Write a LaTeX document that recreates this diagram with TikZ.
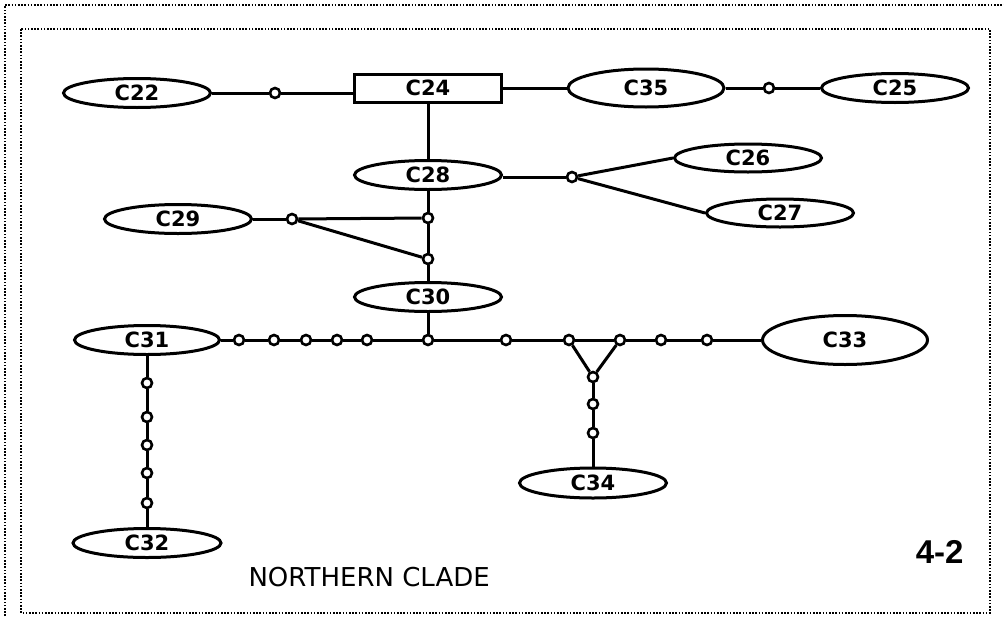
\documentclass[tikz,border=0pt]{standalone}
\usepackage{fontspec}
\setmainfont{DejaVu Sans}
\newfontfamily\arialfont{Liberation Sans}
\usepackage{tikz}
\usetikzlibrary{shapes, positioning}

\tikzset{
    hap/.style={ellipse, draw, line width=3pt, minimum width=147pt, minimum height=29pt,
        inner sep=0pt, font=\fontsize{21}{24}\selectfont\bfseries},
    hapbox/.style={rectangle, draw, line width=3pt, minimum width=147pt, minimum height=28pt,
        inner sep=0pt, font=\fontsize{21}{24}\selectfont\bfseries},
    mv/.style={circle, draw, fill=white, line width=2.6pt, minimum size=10pt, inner sep=0pt},
    link/.style={line width=3pt},
    frame/.style={line width=1.6pt, dash pattern=on 1.6pt off 1.6pt}
}

\begin{document}
\begin{tikzpicture}[x=1pt, y=-1pt]
        \useasboundingbox (0, 0) rectangle (1004, 616);
        \draw[frame] (5, 616) |- (1004, 5);
        \draw[frame] (21, 29) rectangle (990, 613);

        % top row
        \node[hap] (c22) at (137, 93) {C22};
        \node[mv] (m1) at (275, 93) {};
        \node[hapbox] (c24) at (428, 88) {C24};
        \node[hap, minimum width=156pt, minimum height=38pt] (c35) at (646, 88) {C35};
        \node[mv] (m2) at (769, 88) {};
        \node[hap] (c25) at (895, 88) {C25};

        % middle part
        \node[hap] (c28) at (428, 175) {C28};
        \node[mv] (m3) at (572, 177) {};
        \node[hap, minimum height=28pt] (c26) at (748, 158) {C26};
        \node[hap, minimum height=28pt] (c27) at (780, 213) {C27};
        \node[mv] (m4) at (428, 218) {};
        \node[mv] (m5) at (292, 219) {};
        \node[hap] (c29) at (178, 219) {C29};
        \node[mv] (m6) at (428, 259) {};
        \node[hap] (c30) at (428, 297) {C30};

        % long branch
        \node[hap, minimum width=145pt] (c31) at (147, 340) {C31};
        \node[mv] (a1) at (239, 340) {};
        \node[mv] (a2) at (274, 340) {};
        \node[mv] (a3) at (306, 340) {};
        \node[mv] (a4) at (337, 340) {};
        \node[mv] (a5) at (367, 340) {};
        \node[mv] (a6) at (428, 340) {};
        \node[mv] (a7) at (506, 340) {};
        \node[mv] (a8) at (569, 340) {};
        \node[mv] (a9) at (620, 340) {};
        \node[mv] (a10) at (661, 340) {};
        \node[mv] (a11) at (707, 340) {};
        \node[hap, minimum width=165pt, minimum height=49pt] (c33) at (845, 340) {C33};

        % down to C34
        \node[mv] (b1) at (593, 377) {};
        \node[mv] (b2) at (593, 404) {};
        \node[mv] (b3) at (593, 433) {};
        \node[hap, minimum height=30pt] (c34) at (593, 483) {C34};

        % down to C32
        \node[mv] (d1) at (147, 383) {};
        \node[mv] (d2) at (147, 417) {};
        \node[mv] (d3) at (147, 445) {};
        \node[mv] (d4) at (147, 473) {};
        \node[mv] (d5) at (147, 503) {};
        \node[hap, minimum width=148pt] (c32) at (147, 543) {C32};

        \node[anchor=base west, font=\fontsize{26}{30}\selectfont] (clade) at (245, 586) {NORTHERN CLADE};
        \node[anchor=base east, font=\arialfont\fontsize{33}{36}\selectfont\bfseries] (fig) at (967, 563) {4-2};

        \draw[link] (c22) -- (m1);
        \draw[link] (m1) -- (m1 -| c24.west);
        \draw[link] (c24) -- (c35);
        \draw[link] (c35) -- (m2);
        \draw[link] (m2) -- (c25);
        \draw[link] (c24) -- (c28);
        \draw[link] (c28.east |- m3) -- (m3);
        \draw[link] (m3) -- (c26.west);
        \draw[link] (m3) -- (c27.west);
        \draw[link] (c28) -- (m4);
        \draw[link] (c29) -- (m5);
        \draw[link] (m5) -- (m4);
        \draw[link] (m5) -- (m6);
        \draw[link] (m4) -- (m6);
        \draw[link] (m6) -- (c30);
        \draw[link] (c30) -- (a6);
        \draw[link] (c31) -- (a1);
        \draw[link] (a1) -- (a2);
        \draw[link] (a2) -- (a3);
        \draw[link] (a3) -- (a4);
        \draw[link] (a4) -- (a5);
        \draw[link] (a5) -- (a6);
        \draw[link] (a6) -- (a7);
        \draw[link] (a7) -- (a8);
        \draw[link] (a8) -- (a9);
        \draw[link] (a9) -- (a10);
        \draw[link] (a10) -- (a11);
        \draw[link] (a11) -- (c33);
        \draw[link] (a8) -- (b1);
        \draw[link] (a9) -- (b1);
        \draw[link] (b1) -- (b2);
        \draw[link] (b2) -- (b3);
        \draw[link] (b3) -- (c34);
        \draw[link] (c31) -- (d1);
        \draw[link] (d1) -- (d2);
        \draw[link] (d2) -- (d3);
        \draw[link] (d3) -- (d4);
        \draw[link] (d4) -- (d5);
        \draw[link] (d5) -- (c32);
    \end{tikzpicture}
\end{document}
